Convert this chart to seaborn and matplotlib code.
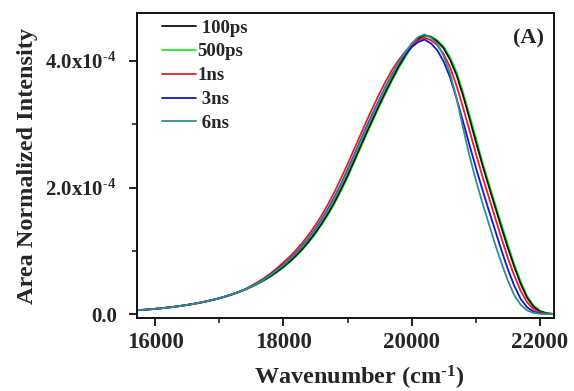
import numpy as np
import pandas as pd
import matplotlib

matplotlib.use("Agg")
import matplotlib.pyplot as plt
import seaborn as sns
from matplotlib.lines import Line2D
from matplotlib.ticker import FixedLocator

# Wavenumber grid (cm-1) the spectra were read at
wavenumber = [
    15700, 15800, 15900, 16000, 16100, 16200, 16300, 16400, 16500, 16600,
    16700, 16800, 16900, 17000, 17100, 17200, 17300, 17400, 17500, 17600,
    17700, 17800, 17900, 18000, 18100, 18200, 18300, 18400, 18500, 18600,
    18700, 18800, 18900, 19000, 19100, 19200, 19300, 19400, 19500, 19600,
    19700, 19800, 19900, 20000, 20100, 20200, 20300, 20400, 20500, 20600,
    20700, 20800, 20900, 21000, 21100, 21200, 21300, 21400, 21500, 21600,
    21700, 21800, 21900, 22000, 22100, 22200,
]

# Area normalized intensity, in units of 1e-4
int_100ps = [
    0.062, 0.069, 0.076, 0.085, 0.095, 0.106, 0.118, 0.132, 0.147, 0.164,
    0.183, 0.204, 0.227, 0.253, 0.282, 0.315, 0.351, 0.391, 0.436, 0.486,
    0.541, 0.604, 0.673, 0.750, 0.836, 0.932, 1.039, 1.159, 1.292, 1.44,
    1.60, 1.78, 1.98, 2.19, 2.42, 2.65, 2.88, 3.10, 3.32, 3.53,
    3.73, 3.92, 4.09, 4.24, 4.35, 4.41, 4.38, 4.31, 4.20, 4.02,
    3.78, 3.46, 3.10, 2.73, 2.37, 2.03, 1.70, 1.37, 1.05, 0.75,
    0.48, 0.26, 0.12, 0.045, 0.015, 0.005,
]
int_500ps = [
    0.061, 0.068, 0.075, 0.084, 0.093, 0.104, 0.116, 0.130, 0.145, 0.161,
    0.180, 0.201, 0.224, 0.249, 0.278, 0.310, 0.346, 0.385, 0.429, 0.478,
    0.533, 0.595, 0.663, 0.738, 0.823, 0.918, 1.023, 1.141, 1.272, 1.418,
    1.576, 1.753, 1.95, 2.16, 2.39, 2.62, 2.85, 3.07, 3.29, 3.50,
    3.70, 3.89, 4.06, 4.22, 4.33, 4.40, 4.39, 4.33, 4.23, 4.06,
    3.83, 3.51, 3.16, 2.79, 2.42, 2.08, 1.75, 1.42, 1.10, 0.79,
    0.52, 0.29, 0.14, 0.055, 0.02, 0.006,
]
int_1ns = [
    0.062, 0.069, 0.076, 0.085, 0.095, 0.106, 0.118, 0.132, 0.147, 0.164,
    0.183, 0.204, 0.227, 0.253, 0.282, 0.315, 0.351, 0.391, 0.451, 0.508,
    0.571, 0.645, 0.727, 0.819, 0.913, 1.018, 1.135, 1.265, 1.410, 1.568,
    1.744, 1.94, 2.15, 2.37, 2.60, 2.83, 3.06, 3.28, 3.49, 3.69,
    3.87, 4.02, 4.15, 4.25, 4.33, 4.37, 4.33, 4.25, 4.11, 3.90,
    3.61, 3.27, 2.91, 2.54, 2.19, 1.86, 1.53, 1.20, 0.89, 0.61,
    0.37, 0.19, 0.08, 0.03, 0.01, 0.003,
]
int_3ns = [
    0.062, 0.069, 0.076, 0.085, 0.095, 0.106, 0.118, 0.132, 0.147, 0.164,
    0.183, 0.204, 0.227, 0.253, 0.282, 0.315, 0.351, 0.391, 0.438, 0.490,
    0.556, 0.629, 0.704, 0.784, 0.874, 0.975, 1.087, 1.212, 1.351, 1.504,
    1.672, 1.86, 2.06, 2.28, 2.51, 2.74, 2.97, 3.19, 3.40, 3.61,
    3.80, 3.97, 4.11, 4.22, 4.30, 4.34, 4.28, 4.17, 3.99, 3.74,
    3.41, 3.05, 2.68, 2.32, 1.98, 1.65, 1.33, 1.01, 0.71, 0.45,
    0.24, 0.11, 0.04, 0.015, 0.005, 0.002,
]
int_6ns = [
    0.062, 0.069, 0.076, 0.085, 0.095, 0.106, 0.118, 0.132, 0.147, 0.164,
    0.183, 0.204, 0.227, 0.253, 0.282, 0.315, 0.351, 0.391, 0.437, 0.488,
    0.552, 0.622, 0.696, 0.776, 0.865, 0.964, 1.075, 1.199, 1.336, 1.488,
    1.654, 1.84, 2.045, 2.26, 2.49, 2.72, 2.95, 3.17, 3.39, 3.60,
    3.80, 3.98, 4.14, 4.28, 4.38, 4.42, 4.37, 4.27, 4.08, 3.80,
    3.41, 2.95, 2.51, 2.12, 1.77, 1.44, 1.11, 0.81, 0.53, 0.30,
    0.15, 0.06, 0.021, 0.007, 0.002, 0.001,
]

delays = ["100ps", "500ps", "1ns", "3ns", "6ns"]
legend_text = [" 100ps", "500ps", "1ns", " 3ns", " 6ns"]
colors = {"100ps": "#111111", "500ps": "#22ee22", "1ns": "#ee1c1c",
          "3ns": "#1515d5", "6ns": "#2f8f8f"}
# green sits under the black trace in the original
draw_order = ["500ps", "100ps", "1ns", "3ns", "6ns"]

sns.set_style("ticks")
plt.rcParams["font.family"] = ["Liberation Serif", "DejaVu Serif"]
plt.rcParams["font.weight"] = "bold"
plt.rcParams["axes.labelweight"] = "bold"
plt.rcParams["mathtext.fontset"] = "custom"
plt.rcParams["mathtext.rm"] = "Liberation Serif:bold"
plt.rcParams["mathtext.bf"] = "Liberation Serif:bold"
plt.rcParams["mathtext.default"] = "rm"

series = {"100ps": int_100ps, "500ps": int_500ps, "1ns": int_1ns,
          "3ns": int_3ns, "6ns": int_6ns}
frames = []
for name, vals in series.items():
    frames.append(pd.DataFrame({"wavenumber": wavenumber,
                                "intensity": np.array(vals) * 1e-4,
                                "delay": name}))
df = pd.concat(frames, ignore_index=True)

fig = plt.figure(figsize=(5.74, 3.91), dpi=100)
ax = fig.add_axes([0.2395, 0.187, 0.7255, 0.779])

sns.lineplot(data=df, x="wavenumber", y="intensity", hue="delay",
             hue_order=draw_order, palette=colors, linewidth=1.3,
             legend=False, ax=ax)

ax.set_xlim(15724, 22218)
ax.set_ylim(-0.058e-4, 4.755e-4)

ax.set_xticks([16000, 18000, 20000, 22000])
ax.set_xticklabels(["16000", "18000", "20000", "22000"], fontsize=16.5)
ax.xaxis.set_minor_locator(FixedLocator([17000, 19000, 21000]))
ax.set_yticks([0, 2e-4, 4e-4])
ax.set_yticklabels(["0.0", r"2.0x10$^{\text{-4}}$", r"4.0x10$^{\text{-4}}$"],
                   fontsize=15)
ax.yaxis.set_minor_locator(FixedLocator([1e-4, 3e-4]))

ax.tick_params(axis="both", which="major", direction="out", length=6,
               width=1.3, color="#111111")
ax.tick_params(axis="x", which="major", pad=4)
ax.tick_params(axis="y", which="major", pad=9)
ax.tick_params(axis="both", which="minor", direction="out", length=3.5,
               width=1.1, color="#111111")
ax.tick_params(top=False, right=False)
for spine in ax.spines.values():
    spine.set_linewidth(1.4)
    spine.set_color("#111111")

ax.set_xlabel("Wavenumber (cm$^{\\text{-1}}$)", fontsize=17.5)
ax.set_ylabel("Area Normalized Intensity", fontsize=17.5)
ax.xaxis.set_label_coords(0.532, -0.152)
ax.yaxis.set_label_coords(-0.24, 0.5)

handles = [Line2D([], [], color=colors[d], linewidth=1.3) for d in delays]
ax.legend(handles, legend_text, loc="upper left",
          bbox_to_anchor=(0.06, 0.98), frameon=False, handlelength=1.8,
          handletextpad=0.05, labelspacing=0.36, borderpad=0,
          borderaxespad=0, prop={"family": "Liberation Serif",
                                 "weight": "bold", "size": 13.5})

ax.text(0.94, 0.918, "(A)", transform=ax.transAxes, ha="center",
        va="center", fontsize=16, fontweight="bold")

fig.savefig("out.png", dpi=100)
